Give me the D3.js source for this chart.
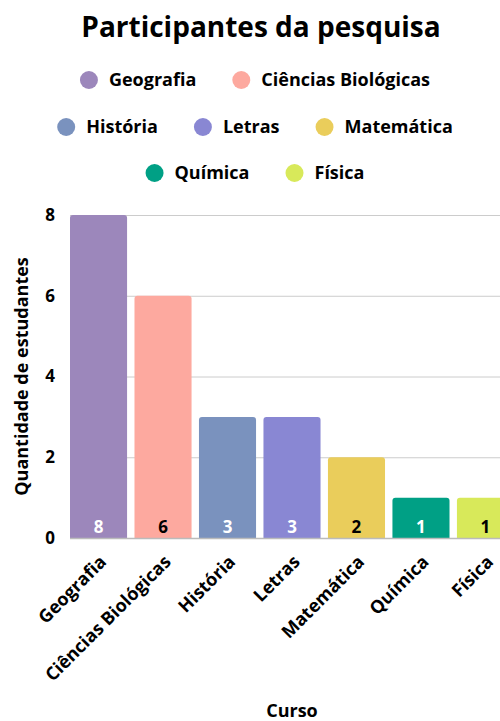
<!DOCTYPE html>
<html>
<head>
<meta charset="utf-8">
<script src="https://cdn.jsdelivr.net/npm/d3@7"></script>
<style>
  html, body { margin: 0; padding: 0; background: #fff; }
  svg { display: block; font-family: "Open Sans", sans-serif; font-weight: 700; }
</style>
</head>
<body>
<svg id="chart" width="500" height="721"></svg>
<script>
(() => {
  "use strict";

  const cursos = ["Geografia", "Ciências Biológicas", "História", "Letras", "Matemática", "Química", "Física"];
  const estudantes = [8, 6, 3, 3, 2, 1, 1];
  const cores = ["#9c87bb", "#fda99f", "#7a92be", "#8987d3", "#eacd5b", "#00a085", "#d8e95a"];
  const corRotulo = ["#fff", "#000", "#fff", "#fff", "#000", "#fff", "#000"];
  const yTicks = [0, 2, 4, 6, 8];
  const legendaLinhas = [[0, 1], [2, 3, 4], [5, 6]];

  const svg = d3.select("#chart");
  const m = { left: 70, right: 514, top: 215, bottom: 538 };

  const x = d3.scaleBand().domain(cursos).range([m.left, m.right]).paddingInner(0.115).paddingOuter(0);
  const y = d3.scaleLinear().domain([0, 8]).range([m.bottom, m.top]);

  // titulo
  svg.append("text")
    .attr("x", 261).attr("y", 37)
    .attr("text-anchor", "middle")
    .attr("font-size", 28)
    .attr("fill", "#000")
    .text("Participantes da pesquisa");

  // legenda
  const rowY = [80, 127, 173];
  legendaLinhas.forEach((linha, r) => {
    const g = svg.append("g");
    let cx = 0;
    linha.forEach((i, k) => {
      const it = g.append("g").attr("transform", `translate(${cx},0)`);
      it.append("circle").attr("cx", 9).attr("cy", 0).attr("r", 9).attr("fill", cores[i]);
      const t = it.append("text")
        .attr("x", 29).attr("y", 0).attr("dy", "0.35em")
        .attr("font-size", 18).attr("fill", "#000")
        .text(cursos[i]);
      cx += 29 + t.node().getComputedTextLength() + 36;
    });
    const w = cx - 36;
    g.attr("transform", `translate(${255 - w / 2},${rowY[r]})`);
  });

  // grade
  svg.append("g").selectAll("line").data(yTicks.filter(d => d > 0)).join("line")
    .attr("x1", m.left).attr("x2", 500)
    .attr("y1", d => y(d) + 0.5).attr("y2", d => y(d) + 0.5)
    .attr("stroke", "#cccccc").attr("stroke-width", 1);

  // eixo y
  const yAxis = svg.append("g")
    .attr("transform", `translate(${m.left - 15},0)`)
    .call(d3.axisLeft(y).tickValues(yTicks).tickSize(0).tickPadding(0));
  yAxis.select(".domain").remove();
  yAxis.selectAll("text").attr("font-size", 17).attr("fill", "#000")
    .attr("font-family", "Open Sans, sans-serif").attr("font-weight", 700);

  // barras com topo arredondado
  const rr = 3;
  svg.append("g").selectAll("path").data(cursos).join("path")
    .attr("fill", (d, i) => cores[i])
    .attr("d", (d, i) => {
      const x0 = x(d), x1 = x(d) + x.bandwidth(), y0 = y(estudantes[i]), y1 = y(0);
      return `M${x0},${y1}V${y0 + rr}Q${x0},${y0} ${x0 + rr},${y0}H${x1 - rr}Q${x1},${y0} ${x1},${y0 + rr}V${y1}Z`;
    });

  // linha base
  svg.append("line")
    .attr("x1", m.left).attr("x2", 500)
    .attr("y1", y(0) + 0.5).attr("y2", y(0) + 0.5)
    .attr("stroke", "#bbbbbb").attr("stroke-width", 1.5);

  // rotulos das barras
  svg.append("g").selectAll("text").data(cursos).join("text")
    .attr("x", d => x(d) + x.bandwidth() / 2)
    .attr("y", y(0) - 5)
    .attr("text-anchor", "middle")
    .attr("font-size", 17)
    .attr("fill", (d, i) => corRotulo[i])
    .text((d, i) => estudantes[i]);

  // eixo x
  const xAxis = svg.append("g")
    .attr("transform", `translate(0,${m.bottom})`)
    .call(d3.axisBottom(x).tickSize(0).tickPadding(0));
  xAxis.select(".domain").remove();
  xAxis.selectAll("text")
    .attr("font-size", 18).attr("fill", "#000")
    .attr("font-family", "Open Sans, sans-serif").attr("font-weight", 700)
    .attr("text-anchor", "end")
    .attr("dy", null).attr("y", 0)
    .attr("transform", "translate(9,25) rotate(-45)");

  // titulos dos eixos
  svg.append("text")
    .attr("x", (m.left + m.right) / 2).attr("y", 717)
    .attr("text-anchor", "middle").attr("font-size", 18).attr("fill", "#000")
    .text("Curso");

  svg.append("text")
    .attr("transform", `translate(28,${(m.top + m.bottom) / 2}) rotate(-90)`)
    .attr("text-anchor", "middle").attr("font-size", 18).attr("fill", "#000")
    .text("Quantidade de estudantes");
})();
</script>
</body>
</html>
